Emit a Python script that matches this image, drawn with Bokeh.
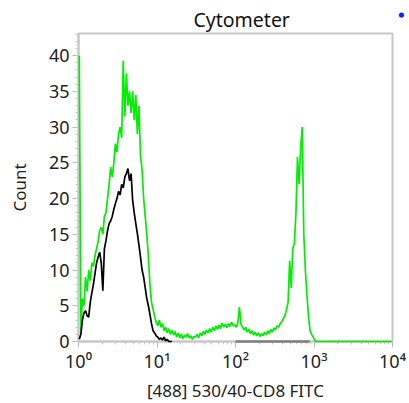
import numpy as np
from bokeh.plotting import figure
from bokeh.models import FixedTicker, SingleIntervalTicker, Range1d, Title
from bokeh.embed import file_html
from bokeh.resources import INLINE

# histogram channels: 200 bins, 0.02 decade wide, covering 10^0 .. 10^4
n_bins = 200
bin_log_width = 0.02

green_counts = [
    40, 1.5, 6, 5, 9, 7, 10, 8.5, 11, 10.5,
    12, 13, 14, 15.5, 16, 15, 17.5, 18, 20, 22,
    24.4, 23, 25, 27.7, 26.5, 29, 30, 28.5, 39.3, 31.5,
    37.5, 33, 35, 32, 35, 31, 34.5, 29, 33, 26,
    24, 20, 17.5, 15, 12, 8, 5.5, 4.5, 3.5, 2.7,
    2.2, 3, 2, 2.5, 1.5, 2, 1.2, 1.8, 1, 1.6,
    0.9, 1.4, 0.6, 1.2, 0.5, 1, 0.4, 0.9, 0.6, 1.1,
    0.5, 0.8, 0.3, 0.7, 0.6, 1.0, 0.5, 1.2, 0.8, 1.4,
    1.0, 1.6, 1.2, 1.8, 1.3, 2.0, 1.5, 2.2, 1.7, 2.3,
    1.8, 2.6, 2.0, 2.4, 1.9, 2.5, 2.1, 2.7, 2.2, 2.3,
    2.0, 2.6, 4.8, 2.4, 2.0, 1.6, 2.0, 1.3, 1.7, 1.1,
    1.5, 0.9, 1.3, 0.8, 1.2, 0.7, 1.1, 0.8, 1.3, 0.9,
    1.5, 1.1, 1.7, 1.3, 1.9, 1.6, 2.2, 2.0, 2.5, 2.8,
    3.2, 3.6, 4.5, 5.5, 11.3, 7.5, 13, 13.7, 18, 25.8,
    22, 27, 30, 15, 10, 6.5, 3.5, 1.5, 1.0, 0.6,
    0.2, 0, 0, 0, 0, 0, 0, 0, 0, 0,
    0, 0, 0, 0, 0, 0, 0, 0, 0, 0,
    0, 0, 0, 0, 0, 0, 0, 0, 0, 0,
    0, 0, 0, 0, 0, 0, 0, 0, 0, 0,
    0, 0, 0, 0, 0, 0, 0, 0, 0, 0,
]

black_counts = [
    0.3, 1.0, 3, 4, 4.3, 3.6, 3.4, 5.5, 6.8, 8,
    9.5, 11, 11.8, 12.5, 11, 7.1, 13, 14.1, 15.5, 16.5,
    16.9, 17.5, 18.5, 19.3, 20, 21, 20.5, 22, 21.5, 23,
    23.5, 24.2, 22.5, 23.5, 19.7, 18, 16.5, 15.1, 13.5, 11.8,
    10, 9, 7.5, 6, 5, 3.8, 2.5, 1.5, 1.2, 0.8,
    0.6, 0.3, 0.5, 0.2, 0.6, 0.1, 0.3, 0, 0, 0,
]

gate = [100, 880]
x_ticks = [1, 10, 100, 1000, 10000]
x_tick_labels = ["10\u2070", "10\u00b9", "10\u00b2", "10\u00b3", "10\u2074"]

bin_centers = 10 ** (np.arange(n_bins) * bin_log_width + bin_log_width / 2)

FONT = "Noto Sans"
GRAY = "#c8c8c8"

p = figure(
    frame_width=314, frame_height=308,
    x_axis_type="log",
    x_range=Range1d(1, 10000), y_range=Range1d(0, 43.1),
    output_backend="svg", toolbar_location=None,
    min_border_left=78, min_border_right=17, min_border_top=33, min_border_bottom=55,
    title="Cytometer",
)
p.title.text_font = FONT
p.title.text_font_size = "19.5px"
p.title.text_font_style = "normal"
p.title.text_color = "#111111"
p.title.align = "left"
p.title.offset = 115
p.title.standoff = 2

# small blue status dot at the top-right corner
p.add_layout(Title(text="\u25cf", text_color="#1a1aff", text_font_size="12px",
                   text_font_style="normal", align="left", offset=-22, standoff=4), "right")

p.outline_line_color = GRAY
p.outline_line_width = 2
p.xgrid.visible = False
p.ygrid.visible = False

minor = [m * 10 ** d for d in range(4) for m in range(2, 10)]
p.xaxis.ticker = FixedTicker(ticks=x_ticks, minor_ticks=minor)
p.xaxis.major_label_overrides = {t: s for t, s in zip(x_ticks, x_tick_labels)}
p.yaxis.ticker = SingleIntervalTicker(interval=5, num_minor_ticks=5)

for ax in (p.xaxis, p.yaxis):
    ax.axis_line_color = GRAY
    ax.axis_line_width = 2
    ax.major_tick_line_color = "#b8b8b8"
    ax.minor_tick_line_color = "#c8c8c8"
    ax.major_tick_out = 6
    ax.major_tick_in = 0
    ax.minor_tick_out = 3
    ax.minor_tick_in = 0
    ax.major_label_text_font = FONT
    ax.major_label_text_font_size = "18px"
    ax.major_label_text_color = "#222222"
    ax.axis_label_text_font = FONT
    ax.axis_label_text_font_size = "17px"
    ax.axis_label_text_font_style = "normal"
    ax.axis_label_text_color = "#222222"

p.yaxis.major_label_standoff = 3
p.xaxis.major_label_standoff = 1
p.xaxis.axis_label = "[488] 530/40-CD8 FITC"
p.yaxis.axis_label = "Count"
p.xaxis.axis_label_standoff = 3
p.yaxis.axis_label_standoff = 15

p.segment(x0=[gate[0]], y0=[0], x1=[gate[1]], y1=[0], line_color="#808080", line_width=2.5,
          level="overlay")
p.line(bin_centers, green_counts, line_color="#00ee00", line_width=1.7, level="overlay")
p.line(bin_centers[:len(black_counts)], black_counts, line_color="#000000", line_width=1.7,
       level="overlay")

open("out.html", "w").write(file_html(p, INLINE))
